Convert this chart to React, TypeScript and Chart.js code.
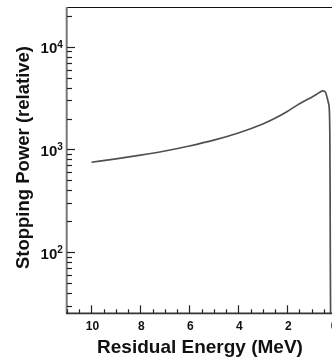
import React, { useEffect, useRef } from "react";
import { Chart, registerables } from "chart.js";

Chart.register(...registerables);

// Residual energy (MeV) and relative stopping power
const energy = [10, 9, 8, 7, 6, 5, 4, 3, 2.5, 2, 1.5, 1.2, 1.0, 0.8, 0.65, 0.55, 0.48, 0.42, 0.37, 0.32, 0.28, 0.26, 0.25, 0.24, 0.22];
const power = [750, 808, 878, 965, 1080, 1230, 1445, 1770, 2010, 2340, 2790, 3050, 3230, 3450, 3630, 3720, 3690, 3520, 3200, 2850, 2400, 1400, 500, 80, 10];

const xMajorTicks = [10, 8, 6, 4, 2, 0];
const xTickLabels = ["10", "8", "6", "4", "2", "0"];
const yMajorTicks = [100, 1000, 10000];
const yTickExponents = ["2", "3", "4"];

const X_MIN = -0.18;
const X_MAX = 11.0;
const Y_MIN = 25.3;
const Y_MAX = 24400;

const FONT = "'Liberation Sans', Arial, Helvetica, sans-serif";

const framePlugin = {
  id: "frame",
  afterDraw(chart: any) {
    const ctx = chart.ctx;
    const { left, right, top, bottom } = chart.chartArea;
    const xs = chart.scales.x;
    const ys = chart.scales.y;
    ctx.save();

    // top border
    ctx.strokeStyle = "#111";
    ctx.lineWidth = 1.2;
    ctx.beginPath();
    ctx.moveTo(left, top + 0.5);
    ctx.lineTo(right, top + 0.5);
    ctx.stroke();
    // right border
    ctx.beginPath();
    ctx.moveTo(right, top);
    ctx.lineTo(right, bottom);
    ctx.stroke();

    // left axis (gray)
    ctx.strokeStyle = "#777";
    ctx.lineWidth = 2;
    ctx.beginPath();
    ctx.moveTo(left - 0.3, top);
    ctx.lineTo(left - 0.3, bottom);
    ctx.stroke();

    // bottom axis
    ctx.strokeStyle = "#333";
    ctx.lineWidth = 1.8;
    ctx.beginPath();
    ctx.moveTo(left - 1, bottom);
    ctx.lineTo(right, bottom);
    ctx.stroke();

    // y ticks (inside)
    ctx.strokeStyle = "#222";
    ctx.lineWidth = 1.2;
    for (let d = 1; d <= 4; d++) {
      for (let m = 1; m <= 9; m++) {
        const v = m * Math.pow(10, d);
        if (v < Y_MIN || v > Y_MAX) continue;
        const py = Math.round(ys.getPixelForValue(v)) + 0.5;
        const len = m === 1 ? 8 : 5;
        ctx.beginPath();
        ctx.moveTo(left, py);
        ctx.lineTo(left + len, py);
        ctx.stroke();
      }
    }
    // x ticks (inside)
    for (let i = 0; i <= 22; i++) {
      const v = i * 0.5;
      if (v < X_MIN || v > X_MAX) continue;
      const px = Math.round(xs.getPixelForValue(v)) + 0.5;
      const len = i % 4 === 0 ? 8 : 4;
      ctx.beginPath();
      ctx.moveTo(px, bottom);
      ctx.lineTo(px, bottom - len);
      ctx.stroke();
    }

    // y tick labels 10^n
    ctx.fillStyle = "#111";
    yMajorTicks.forEach((v, i) => {
      const py = ys.getPixelForValue(v);
      ctx.font = `bold 15px ${FONT}`;
      ctx.textAlign = "right";
      ctx.textBaseline = "alphabetic";
      ctx.fillText("10", 57.3, py + 6.5);
      ctx.font = `bold 10px ${FONT}`;
      ctx.textAlign = "left";
      ctx.fillText(yTickExponents[i], 57.3, py + 1);
    });

    // x tick labels
    ctx.font = `bold 12px ${FONT}`;
    ctx.textAlign = "center";
    ctx.textBaseline = "alphabetic";
    xMajorTicks.forEach((v, i) => {
      const px = xs.getPixelForValue(v);
      const shift = v === 0 ? -2 : 1;
      ctx.fillText(xTickLabels[i], px + shift, bottom + 16.7);
    });

    // x title
    ctx.font = `bold 19px ${FONT}`;
    ctx.textAlign = "center";
    ctx.fillText("Residual Energy (MeV)", 200, 352.5);

    // y title
    ctx.save();
    ctx.font = `bold 18.5px ${FONT}`;
    ctx.translate(28.5, 157.5);
    ctx.rotate(-Math.PI / 2);
    ctx.textAlign = "center";
    ctx.fillText("Stopping Power (relative)", 0, 0);
    ctx.restore();

    ctx.restore();
  },
};

export default function App() {
  const ref = useRef<HTMLCanvasElement | null>(null);

  useEffect(() => {
    document.body.style.margin = "0";
    const canvas = ref.current;
    if (!canvas) return;
    const chart = new Chart(canvas, {
      type: "line",
      data: {
        datasets: [
          {
            data: energy.map((e, i) => ({ x: e, y: power[i] })),
            borderColor: "#505050",
            borderWidth: 1.7,
            pointRadius: 0,
            fill: false,
            cubicInterpolationMode: "monotone",
          },
        ],
      },
      options: {
        responsive: false,
        animation: false,
        devicePixelRatio: 1,
        layout: { padding: { left: 67, top: 7, right: 4.4, bottom: 47.7 } },
        plugins: { legend: { display: false }, tooltip: { enabled: false } },
        scales: {
          x: { type: "linear", min: X_MIN, max: X_MAX, reverse: true, display: false },
          y: { type: "logarithmic", min: Y_MIN, max: Y_MAX, display: false },
        },
      },
      plugins: [framePlugin],
    } as any);
    return () => chart.destroy();
  }, []);

  return (
    <div style={{ width: 332, height: 361, overflow: "hidden", position: "relative" }}>
      <canvas ref={ref} width={345} height={361} style={{ width: 345, height: 361, display: "block" }} />
    </div>
  );
}
